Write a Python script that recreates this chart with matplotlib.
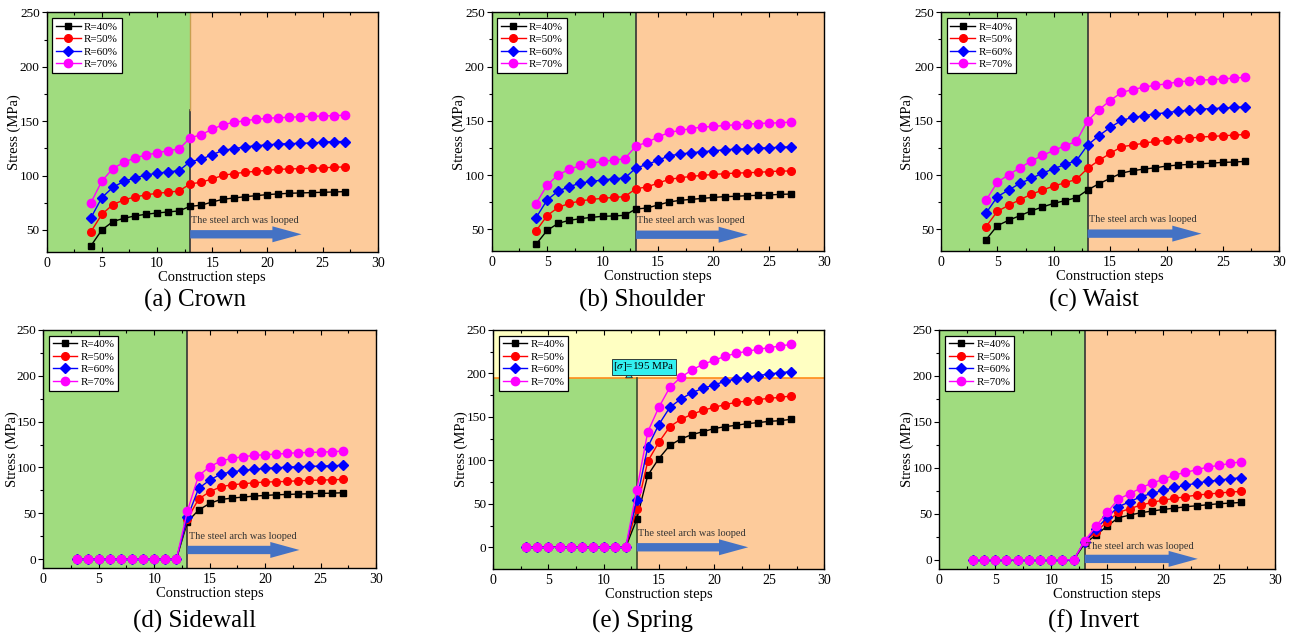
import matplotlib
matplotlib.use("Agg")
import matplotlib.pyplot as plt
import numpy as np

plt.rcParams['font.family'] = ['Liberation Serif', 'DejaVu Serif']
plt.rcParams['mathtext.fontset'] = 'stix'

### data (stress in MPa)
steps_top = list(range(4, 28))   # construction steps 4..27
steps_bot = list(range(3, 28))   # construction steps 3..27
labels = ["R=40%", "R=50%", "R=60%", "R=70%"]

crown_40 = [35.3, 50.0, 57.7, 60.7, 62.9, 64.4, 65.6, 66.5, 67.5, 71.7, 72.7, 75.7, 78.2, 79.4, 80.6, 81.5, 82.5, 83.1, 83.7, 84.0, 84.3, 84.6, 84.9, 85.2]
crown_50 = [48.2, 64.4, 73.3, 77.6, 80.3, 82.2, 83.7, 84.6, 85.8, 92.3, 93.8, 96.9, 100.2, 101.8, 103.0, 103.9, 104.8, 105.7, 106.0, 106.4, 106.7, 107.0, 107.6, 107.9]
crown_60 = [61.0, 79.7, 89.2, 94.7, 97.8, 100.5, 102.1, 103.3, 104.5, 112.8, 114.9, 119.2, 123.2, 124.7, 126.3, 127.5, 128.1, 129.0, 129.3, 129.6, 129.9, 130.6, 131.2, 131.2]
crown_70 = [74.8, 95.0, 106.4, 112.2, 116.2, 118.9, 120.8, 122.9, 124.4, 134.5, 137.6, 142.5, 146.8, 148.9, 150.5, 151.7, 152.6, 153.2, 153.5, 154.1, 154.4, 154.7, 155.0, 155.4]

shoulder_40 = [36.2, 49.0, 55.5, 58.3, 59.8, 61.0, 62.0, 62.3, 62.9, 68.7, 69.6, 72.4, 75.2, 76.7, 77.6, 78.5, 79.4, 80.1, 80.4, 81.0, 81.3, 81.6, 82.2, 82.5]
shoulder_50 = [48.5, 62.6, 70.2, 73.9, 76.1, 77.6, 78.5, 79.4, 80.1, 87.4, 89.0, 92.6, 96.0, 97.5, 98.8, 99.7, 100.6, 101.2, 101.8, 102.1, 102.5, 103.1, 103.7, 103.7]
shoulder_60 = [60.7, 77.0, 85.3, 89.3, 92.6, 94.2, 95.4, 96.6, 97.2, 106.4, 109.8, 113.5, 117.8, 119.3, 120.6, 121.5, 122.4, 123.3, 123.9, 124.2, 124.8, 125.2, 125.5, 126.1]
shoulder_70 = [73.6, 90.8, 100.3, 105.2, 108.9, 111.0, 112.6, 113.8, 115.0, 126.7, 130.1, 135.0, 139.3, 141.1, 142.9, 144.2, 144.8, 145.7, 146.3, 146.9, 147.5, 147.9, 148.2, 148.8]

waist_40 = [40.5, 53.4, 58.3, 62.6, 66.9, 70.6, 73.9, 76.4, 79.1, 86.2, 92.0, 96.9, 101.8, 104.0, 105.5, 106.7, 108.3, 109.2, 109.8, 110.4, 111.0, 111.7, 112.0, 112.6]
waist_50 = [52.5, 66.6, 72.1, 77.3, 82.2, 86.2, 89.9, 92.9, 96.0, 106.1, 113.5, 119.9, 126.1, 127.6, 129.4, 131.0, 131.9, 133.1, 134.0, 135.0, 135.6, 136.2, 136.8, 137.4]
waist_60 = [65.0, 80.1, 86.2, 92.3, 96.9, 101.8, 105.8, 109.8, 113.2, 127.6, 136.2, 143.9, 150.3, 153.1, 154.6, 156.4, 157.4, 158.9, 159.8, 160.7, 161.3, 161.7, 162.3, 162.9]
waist_70 = [77.0, 93.3, 100.3, 106.7, 112.9, 118.1, 122.7, 127.0, 131.0, 150.0, 160.1, 168.7, 176.1, 178.8, 181.0, 182.8, 184.0, 185.9, 186.8, 187.4, 188.0, 188.7, 189.3, 190.2]

sidewall_40 = [0, 0, 0, 0, 0, 0, 0, 0, 0, 0, 40.8, 53.5, 60.8, 65.1, 66.6, 67.7, 68.8, 69.5, 70.2, 70.6, 71.0, 71.3, 71.7, 72.0, 72.4]
sidewall_50 = [0, 0, 0, 0, 0, 0, 0, 0, 0, 0, 44.0, 65.5, 73.5, 79.0, 81.1, 82.2, 83.3, 84.1, 84.4, 84.8, 85.5, 85.9, 86.2, 86.6, 87.0]
sidewall_60 = [0, 0, 0, 0, 0, 0, 0, 0, 0, 0, 45.5, 77.1, 86.2, 92.8, 95.3, 96.8, 97.9, 99.0, 99.7, 100.4, 100.8, 101.2, 101.5, 101.9, 102.3]
sidewall_70 = [0, 0, 0, 0, 0, 0, 0, 0, 0, 0, 52.8, 91.0, 100.8, 107.0, 109.9, 111.7, 113.2, 113.9, 114.6, 115.4, 116.1, 116.4, 116.8, 117.2, 117.9]

spring_40 = [0, 0, 0, 0, 0, 0, 0, 0, 0, 0, 32.2, 82.8, 102.0, 117.3, 124.6, 129.6, 133.0, 136.5, 138.8, 140.3, 142.3, 143.4, 144.9, 145.7, 147.2]
spring_50 = [0, 0, 0, 0, 0, 0, 0, 0, 0, 0, 43.7, 98.9, 120.8, 138.8, 147.2, 153.0, 157.6, 161.0, 164.1, 166.8, 168.3, 169.9, 171.4, 172.5, 174.1]
spring_60 = [0, 0, 0, 0, 0, 0, 0, 0, 0, 0, 54.4, 115.4, 141.1, 161.0, 170.6, 177.9, 182.9, 186.7, 191.0, 193.6, 195.6, 197.5, 199.4, 200.9, 202.1]
spring_70 = [0, 0, 0, 0, 0, 0, 0, 0, 0, 0, 66.0, 132.7, 161.0, 184.0, 195.6, 204.0, 210.5, 215.1, 219.7, 223.2, 225.5, 227.8, 229.7, 231.6, 233.5]

invert_40 = [0, 0, 0, 0, 0, 0, 0, 0, 0, 0, 17.8, 26.9, 36.6, 45.7, 48.6, 51.2, 53.0, 54.8, 56.2, 57.7, 58.8, 59.9, 61.0, 61.7, 62.4]
invert_50 = [0, 0, 0, 0, 0, 0, 0, 0, 0, 0, 19.6, 30.5, 41.4, 51.5, 55.5, 59.5, 62.4, 64.9, 66.8, 68.6, 70.4, 71.5, 72.6, 73.7, 74.4]
invert_60 = [0, 0, 0, 0, 0, 0, 0, 0, 0, 0, 19.8, 33.4, 46.1, 57.7, 63.1, 68.6, 72.2, 75.5, 78.7, 80.9, 83.5, 85.3, 86.7, 88.2, 89.3]
invert_70 = [0, 0, 0, 0, 0, 0, 0, 0, 0, 0, 20.7, 36.6, 51.5, 66.0, 71.8, 78.0, 83.5, 87.4, 92.2, 95.1, 98.0, 100.9, 102.7, 104.9, 106.7]

allowable = 195  # [sigma] in MPa
loop_step = 13

### styles
colors = ['black', 'red', 'blue', 'magenta']
markers = ['s', 'o', 'D', 'o']
msizes = [5, 5.5, 5, 6]
GREEN = '#A0DC7F'
ORANGE = '#FDCB9B'
YELLOW = '#FFFFC2'
ARROW = '#4472C4'

W, H = 1295, 638
fig = plt.figure(figsize=(W / 100, H / 100), dpi=100)


def px_axes(left, right, top, bottom):
    return fig.add_axes([left / W, 1 - bottom / H, (right - left) / W, (bottom - top) / H])


panels = [
    # box px, x, series, ylim, yticks, caption, caption pos, ylabel x, arrow y, text y
    ((46.7, 377.7, 12.3, 251.7), steps_top, [crown_40, crown_50, crown_60, crown_70], (30, 250), [50, 100, 150, 200, 250],
     "(a) Crown", (195, 300), -0.078, 46, 59),
    ((491.7, 824.3, 12.3, 251.0), steps_top, [shoulder_40, shoulder_50, shoulder_60, shoulder_70], (30, 250), [50, 100, 150, 200, 250],
     "(b) Shoulder", (642, 300), -0.076, 45, 58.5),
    ((941.0, 1279.3, 12.3, 251.0), steps_top, [waist_40, waist_50, waist_60, waist_70], (30, 250), [50, 100, 150, 200, 250],
     "(c) Waist", (1094, 300), -0.08, 46, 59),
    ((43.3, 376.0, 330.0, 568.3), steps_bot, [sidewall_40, sidewall_50, sidewall_60, sidewall_70], (-10, 250), [0, 50, 100, 150, 200, 250],
     "(d) Sidewall", (195, 621), -0.074, 10, 25),
    ((493.3, 824.3, 330.0, 569.0), steps_bot, [spring_40, spring_50, spring_60, spring_70], (-25, 250), [0, 50, 100, 150, 200, 250],
     "(e) Spring", (642, 621), -0.077, 0, 16),
    ((939.3, 1275.0, 330.0, 569.0), steps_bot, [invert_40, invert_50, invert_60, invert_70], (-10, 250), [0, 50, 100, 150, 200, 250],
     "(f) Invert", (1094, 621), -0.074, 1, 14),
]

for i, (box, x, series, ylim, yticks, caption, cpos, ylx, arr_y, txt_y) in enumerate(panels):
    ax = px_axes(*box)
    ax.set_xlim(0, 30)
    ax.set_ylim(*ylim)

    ### background zones
    if i == 4:
        frac = (allowable - ylim[0]) / (ylim[1] - ylim[0])
        ax.axvspan(0, loop_step, ymin=0, ymax=frac, color=GREEN, lw=0, zorder=0)
        ax.axvspan(loop_step, 30, ymin=0, ymax=frac, color=ORANGE, lw=0, zorder=0)
        ax.axhspan(allowable, ylim[1], color=YELLOW, lw=0, zorder=0)
        ax.axhline(allowable, color='#FF8C1A', lw=1.2, zorder=1)
        ax.plot([loop_step, loop_step], [ylim[0], allowable], color='#3C4A30', lw=1.2, zorder=1)
        ax.annotate(r"[$\sigma$]=195 MPa", xy=(12.0, allowable), xytext=(13.65, 207.5),
                    fontsize=8, ha='center', va='center', zorder=6,
                    bbox=dict(boxstyle='square,pad=0.1', fc='#33F0F0', ec='#222222', lw=0.6),
                    arrowprops=dict(arrowstyle='wedge,tail_width=0.6,shrink_factor=0.5', fc='#33F0F0',
                                    ec='#222222', lw=0.6, shrinkA=0, shrinkB=0))
    else:
        ax.axvspan(0, loop_step, color=GREEN, lw=0, zorder=0)
        ax.axvspan(loop_step, 30, color=ORANGE, lw=0, zorder=0)
        if i == 0:
            ax.plot([loop_step, loop_step], [ylim[0], 160], color='#333333', lw=1.2, zorder=1)
            ax.plot([loop_step, loop_step], [160, ylim[1]], color='#C8A050', lw=1.0, zorder=1)
        else:
            ax.axvline(loop_step, color='#333333', lw=1.2, zorder=1)

    ### curves
    for y, c, m, ms, lab in zip(series, colors, markers, msizes, labels):
        ax.plot(x, y, color=c, marker=m, markersize=ms, lw=1.0, label=lab, zorder=3)

    ### arrow + note
    ax.annotate('', xy=(23.1, arr_y), xytext=(loop_step, arr_y),
                arrowprops=dict(arrowstyle='simple,head_length=2.1,head_width=1.15,tail_width=0.6',
                                fc=ARROW, ec=ARROW, lw=0, shrinkA=0, shrinkB=0), zorder=4)
    ax.text(13.1, txt_y, "The steel arch was looped", fontsize=7.5, color='#333333',
            ha='left', va='center', zorder=5)

    ### axes cosmetics
    ax.set_xticks([0, 5, 10, 15, 20, 25, 30])
    ax.set_xticks(np.arange(2.5, 30, 5), minor=True)
    ax.set_yticks(yticks)
    ax.set_yticks(np.arange(yticks[0] + 25, 250, 50), minor=True)
    ax.tick_params(axis='both', which='both', top=True, right=True)
    ax.tick_params(axis='x', which='both', direction='in', labelsize=10)
    ax.tick_params(axis='y', which='both', direction='out', right=False, labelsize=9.5, pad=1.5)
    ax.tick_params(which='major', length=3.5, width=0.8)
    ax.tick_params(which='minor', length=2.5, width=0.8)
    ax.set_xlabel("Construction steps", fontsize=10.5)
    ax.set_ylabel("Stress (MPa)", fontsize=10.5)
    ax.xaxis.set_label_coords(0.5, -0.08)
    ax.yaxis.set_label_coords(ylx, 0.5)
    for s in ax.spines.values():
        s.set_linewidth(1.0)

    leg = ax.legend(loc='upper left', fontsize=8, frameon=True, fancybox=False, framealpha=1,
                    edgecolor='black', borderaxespad=0.5, handlelength=2.2, labelspacing=0.25,
                    borderpad=0.35, handletextpad=0.3)
    leg.get_frame().set_linewidth(0.9)
    leg.set_zorder(10)

    fig.text(cpos[0] / W, 1 - cpos[1] / H, caption, fontsize=18, ha='center', va='center')

fig.savefig("out.png", dpi=100)
